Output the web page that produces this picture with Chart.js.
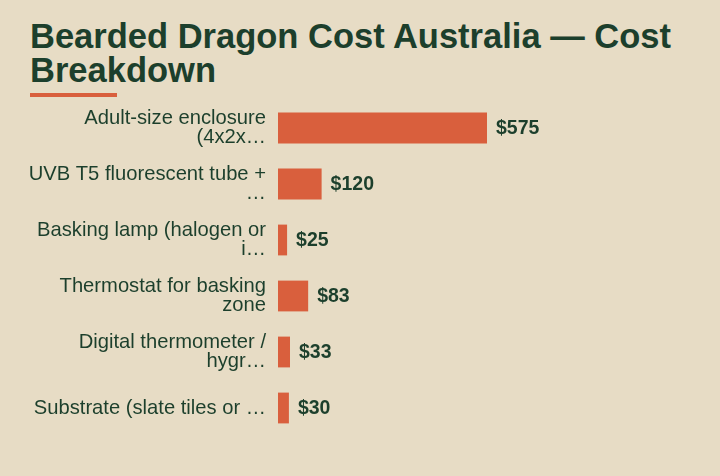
<!DOCTYPE html>
<html>
<head>
<meta charset="utf-8">
<script src="https://cdn.jsdelivr.net/npm/chart.js@4/dist/chart.umd.min.js"></script>
<style>
  html,body{margin:0;padding:0;background:#e7dcc5;}
  #wrap{position:relative;width:720px;height:476px;overflow:hidden;background:#e7dcc5;}
  h1{position:absolute;left:30px;top:19px;width:680px;margin:0;font:bold 34.5px "Liberation Sans",Arial,sans-serif;line-height:34px;color:#1c3f2c;}
  #rule{position:absolute;left:30px;top:93px;width:87px;height:4px;background:#d95f3d;}
  #c{position:absolute;left:0;top:0;}
</style>
</head>
<body>
<div id="wrap">
  <h1>Bearded Dragon Cost Australia — Cost Breakdown</h1>
  <div id="rule"></div>
  <canvas id="c" width="720" height="476"></canvas>
</div>
<script>
// categories as displayed (already wrapped / cut by the source chart)
const categories = [
  ['Adult-size enclosure', '(4x2x…'],
  ['UVB T5 fluorescent tube +', '…'],
  ['Basking lamp (halogen or', 'i…'],
  ['Thermostat for basking', 'zone'],
  ['Digital thermometer /', 'hygr…'],
  'Substrate (slate tiles or …'
];
const costs = [575, 120, 25, 83, 33, 30];
const valueLabels = costs.map(v => '$' + v);

const ink = '#1c3f2c';
const bar = '#d95f3d';

// draws "$575" etc. just past the end of each bar
const valueLabelPlugin = {
  id: 'valueLabels',
  afterDatasetsDraw(chart){
    const ctx = chart.ctx;
    const meta = chart.getDatasetMeta(0);
    ctx.save();
    ctx.font = 'bold 19.5px "Liberation Sans", Arial, sans-serif';
    ctx.fillStyle = ink;
    ctx.textAlign = 'left';
    ctx.textBaseline = 'middle';
    meta.data.forEach((el, i) => {
      ctx.fillText(valueLabels[i], el.x + 9, el.y + 1);
    });
    ctx.restore();
  }
};

new Chart(document.getElementById('c'), {
  type: 'bar',
  data: {
    labels: categories,
    datasets: [{
      data: costs,
      backgroundColor: bar,
      borderWidth: 0,
      barPercentage: 0.55,
      categoryPercentage: 1
    }]
  },
  options: {
    indexAxis: 'y',
    responsive: false,
    animation: false,
    layout: {padding: {top: 100, bottom: 40, left: 0, right: 24}},
    plugins: {legend: {display: false}, tooltip: {enabled: false}},
    scales: {
      x: {display: false, min: 0, max: 1150},
      y: {
        grid: {display: false, drawTicks: false},
        border: {display: false},
        afterFit(scale){ scale.width = 278; },
        ticks: {
          padding: 12,
          color: ink,
          font: {family: '"Liberation Sans", Arial, sans-serif', size: 20.2, lineHeight: 0.91}
        }
      }
    }
  },
  plugins: [valueLabelPlugin]
});
</script>
</body>
</html>
